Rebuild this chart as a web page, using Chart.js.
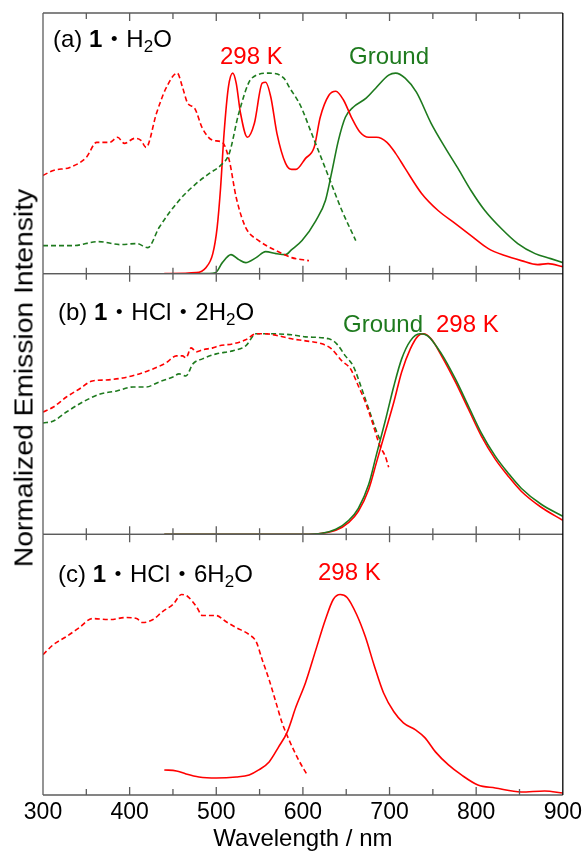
<!DOCTYPE html>
<html><head><meta charset="utf-8">
<script src="https://cdn.jsdelivr.net/npm/chart.js@4"></script>
<style>
html,body{margin:0;padding:0;background:#fff;}
#wrap{position:relative;width:586px;height:852px;overflow:hidden;}
#c{position:absolute;left:0;top:0;}
.lbl{position:absolute;font-family:"Liberation Sans",Arial,"Noto Sans CJK JP",sans-serif;font-size:24px;line-height:24px;white-space:nowrap;color:#000;}
.sub{font-size:17px;position:relative;top:5px;}
.dot{font-family:"Noto Sans CJK JP",sans-serif;}
.red{color:#ff0000;}
.grn{color:#1e7a1e;}
</style>
</head><body>
<div id="wrap">
<canvas id="c" width="586" height="852"></canvas>
<div class="lbl" style="left:53px;top:25px;">(a) <b>1</b><span class="dot">・</span>H<span class="sub">2</span>O</div>
<div class="lbl red" style="left:220px;top:44px;">298 K</div>
<div class="lbl grn" style="left:349px;top:44px;">Ground</div>
<div class="lbl" style="left:58px;top:298px;">(b) <b>1</b><span class="dot">・</span>HCl<span class="dot">・</span>2H<span class="sub">2</span>O</div>
<div class="lbl grn" style="left:343px;top:312px;">Ground</div>
<div class="lbl red" style="left:436px;top:312px;">298 K</div>
<div class="lbl" style="left:58px;top:560px;">(c) <b>1</b><span class="dot">・</span>HCl<span class="dot">・</span>6H<span class="sub">2</span>O</div>
<div class="lbl red" style="left:318px;top:560px;">298 K</div>
<div class="lbl" style="left:24px;top:378px;font-size:25px;line-height:25px;transform:translate(-50%,-50%) rotate(-90deg) scaleX(1.13);">Normalized Emission Intensity</div>
</div>
<script>
// ---------- tick labels ----------
const xTickLabels = [300, 400, 500, 600, 700, 800, 900];

// ---------- panel (a) 1·H2O ----------
const aExc298X = [300,312,331,350,362,377,386,394,406,413,419,431,442,455,461,467,475,484,496,507,515,523,534,549,569,587,607];
const aExc298Y = [0.49,0.515,0.53,0.58,0.655,0.655,0.68,0.65,0.675,0.665,0.63,0.80,0.925,1.0,0.93,0.85,0.825,0.725,0.665,0.655,0.565,0.38,0.23,0.165,0.115,0.08,0.065];
const aExcGrdX = [300,335,364,389,408,421,434,457,477,492,505,515,526,541,561,578,585,597,610,630,645,661];
const aExcGrdY = [0.14,0.14,0.16,0.145,0.15,0.13,0.23,0.365,0.45,0.50,0.54,0.60,0.80,0.975,1.0,0.975,0.925,0.84,0.70,0.48,0.315,0.165];
const aEm298X = [440,477,488,496,501,505,509,514,519,523,528,536,544,553,557,563,570,580,587,592,603,613,620,630,638,647,656,666,676,685,697,707,718,737,756,776,794,814,833,852,871,883,900];
const aEm298Y = [0,0.005,0.03,0.10,0.23,0.43,0.70,0.93,1.0,0.95,0.80,0.68,0.75,0.95,0.955,0.88,0.70,0.55,0.52,0.52,0.575,0.63,0.78,0.89,0.91,0.865,0.78,0.705,0.68,0.68,0.655,0.60,0.525,0.40,0.315,0.25,0.19,0.125,0.09,0.065,0.045,0.05,0.035];
const aEmGrdX = [480,499,507,517,526,534,546,557,569,580,587,599,615,626,633,641,649,658,673,684,699,707,718,731,748,764,779,794,810,829,848,868,886,900];
const aEmGrdY = [0,0.005,0.055,0.095,0.07,0.055,0.08,0.11,0.10,0.095,0.12,0.165,0.265,0.365,0.50,0.665,0.78,0.83,0.875,0.925,0.99,1.0,0.975,0.905,0.75,0.63,0.525,0.415,0.315,0.225,0.15,0.10,0.075,0.055];

// ---------- panel (b) 1·HCl·2H2O ----------
const bExc298X = [300,312,327,342,357,373,392,411,427,442,454,461,465,471,477,484,496,503,519,534,546,557,572,587,603,622,633,645,655,664,672,680,689,695,699];
const bExc298Y = [0.61,0.635,0.685,0.725,0.765,0.77,0.78,0.80,0.825,0.855,0.89,0.89,0.88,0.93,0.91,0.92,0.93,0.94,0.95,0.97,1.0,1.0,0.99,0.975,0.965,0.95,0.925,0.865,0.825,0.74,0.66,0.56,0.44,0.39,0.335];
const bExcGrdX = [300,312,327,346,366,385,404,419,434,450,457,465,473,484,500,519,534,546,565,587,603,630,639,649,658,668,676,684,690];
const bExcGrdY = [0.555,0.565,0.61,0.66,0.70,0.715,0.735,0.735,0.76,0.785,0.80,0.79,0.85,0.875,0.90,0.915,0.94,1.0,1.0,0.995,0.985,0.975,0.95,0.89,0.84,0.725,0.625,0.525,0.46];
const bEm298X = [440,600,622,638,653,664,676,685,695,705,714,724,733,739,748,760,776,791,806,822,837,852,875,900];
const bEm298Y = [0,0,0.005,0.02,0.06,0.115,0.225,0.36,0.51,0.66,0.81,0.925,0.99,1.0,0.975,0.89,0.76,0.625,0.49,0.375,0.29,0.215,0.135,0.07];
const bEmGrdX = [440,600,622,638,653,664,676,685,695,705,714,724,735,744,760,776,791,806,822,837,852,875,900];
const bEmGrdY = [0,0,0.005,0.025,0.07,0.13,0.25,0.40,0.565,0.74,0.875,0.965,1.0,0.99,0.90,0.775,0.64,0.505,0.39,0.305,0.23,0.15,0.09];

// ---------- panel (c) 1·HCl·6H2O ----------
const cExc298X = [300,312,327,342,357,377,396,408,415,427,438,450,460,467,477,484,500,511,523,538,546,553,561,569,576,584,595,605];
const cExc298Y = [0.70,0.75,0.79,0.835,0.88,0.875,0.885,0.88,0.86,0.875,0.915,0.95,1.0,0.99,0.94,0.895,0.895,0.865,0.835,0.80,0.765,0.675,0.575,0.46,0.36,0.275,0.175,0.10];
const cEm298X = [440,454,465,480,500,523,538,549,561,572,582,592,603,615,626,635,643,651,662,672,682,693,705,716,730,741,753,768,783,802,822,852,879,900];
const cEm298Y = [0.125,0.12,0.105,0.09,0.085,0.09,0.10,0.125,0.165,0.24,0.315,0.44,0.56,0.725,0.875,0.975,1.0,0.985,0.90,0.79,0.65,0.51,0.415,0.36,0.325,0.285,0.215,0.15,0.10,0.05,0.035,0.015,0.02,0.01];

const RED = '#ff0000', GRN = '#1e7a1e';
const pts = (xs, ys) => xs.map((x, i) => ({x: x, y: ys[i]}));
function ds(xs, ys, color, dashed, panel) {
  return {
    data: pts(xs, ys), borderColor: color, borderWidth: 1.6,
    borderDash: dashed ? [5, 3] : [], pointRadius: 0, fill: false,
    cubicInterpolationMode: 'monotone', panel: panel, yAxisID: panel
  };
}
const datasets = [
  ds(aExc298X, aExc298Y, RED, true, 'ya'),
  ds(aExcGrdX, aExcGrdY, GRN, true, 'ya'),
  ds(aEm298X, aEm298Y, RED, false, 'ya'),
  ds(aEmGrdX, aEmGrdY, GRN, false, 'ya'),
  ds(bExc298X, bExc298Y, RED, true, 'yb'),
  ds(bExcGrdX, bExcGrdY, GRN, true, 'yb'),
  ds(bEmGrdX, bEmGrdY, GRN, false, 'yb'),
  ds(bEm298X, bEm298Y, RED, false, 'yb'),
  ds(cExc298X, cExc298Y, RED, true, 'yc'),
  ds(cEm298X, cEm298Y, RED, false, 'yc')
];

function yAxis() {
  return {
    type: 'linear', min: 0, max: 1.3, stack: 'panels', stackWeight: 1, position: 'left',
    display: true, ticks: {display: false}, grid: {display: false, drawTicks: false},
    border: {display: false}, title: {display: false},
    afterFit: s => { s.width = 0; }
  };
}

const framePlugin = {
  id: 'frame',
  afterDatasetsDraw(chart) {
    const ctx = chart.ctx, xs = chart.scales.x;
    const panels = ['ya', 'yb', 'yc'].map(id => chart.scales[id]);
    const L = xs.left, R = xs.right;
    const majors = xs.ticks.map(t => t.value);
    const marks = [];
    majors.forEach((v, i) => {
      marks.push({v: v, len: 8});
      if (i < majors.length - 1) marks.push({v: (v + majors[i + 1]) / 2, len: 6});
    });
    ctx.save();
    ctx.lineWidth = 1.3;
    ctx.strokeStyle = '#5c5c5c';
    let top = Infinity, bottom = -Infinity;
    panels.forEach(s => {
      const T = s.top, B = s.bottom;
      top = Math.min(top, T); bottom = Math.max(bottom, B);
      ctx.beginPath();
      ctx.moveTo(L, T); ctx.lineTo(R, T);
      ctx.moveTo(L, B); ctx.lineTo(R, B);
      ctx.moveTo(L, T); ctx.lineTo(L, B);
      marks.forEach(m => {
        const px = xs.getPixelForValue(m.v);
        if (px <= L + 1 || px >= R - 1) return;
        ctx.moveTo(px, T); ctx.lineTo(px, T + m.len);
        ctx.moveTo(px, B); ctx.lineTo(px, B - m.len);
      });
      ctx.stroke();
    });
    ctx.strokeStyle = '#000';
    ctx.beginPath(); ctx.moveTo(R, top); ctx.lineTo(R, bottom); ctx.stroke();
    ctx.restore();
  }
};

const chart = new Chart(document.getElementById('c'), {
  type: 'line',
  data: {datasets: datasets},
  plugins: [framePlugin],
  options: {
    responsive: false, animation: false, devicePixelRatio: 1,
    layout: {padding: {left: 43, right: 21, top: 13, bottom: 0}},
    plugins: {legend: {display: false}, tooltip: {enabled: false}},
    scales: {
      x: {
        type: 'linear', position: 'bottom', min: 300, max: 900,
        afterBuildTicks: s => { s.ticks = xTickLabels.map(v => ({value: v})); },
        ticks: {color: '#000', font: {family: '"Liberation Sans", Arial, sans-serif', size: 23}, padding: 4, maxRotation: 0, autoSkip: false},
        grid: {display: false, drawTicks: false}, border: {display: false},
        title: {display: true, text: 'Wavelength / nm', color: '#000',
          font: {family: '"Liberation Sans", Arial, sans-serif', size: 24, lineHeight: 1}, padding: {top: 0, bottom: 1}},
        afterFit: s => { s.height = 57; }
      },
      yc: yAxis(),
      yb: yAxis(),
      ya: yAxis()
    }
  }
});
// make sure panel (a) is on top, (c) at the bottom
(function fixOrder() {
  const ids = ['ya', 'yb', 'yc'].sort((p, q) => chart.scales[p].top - chart.scales[q].top);
  const map = {ya: ids[0], yb: ids[1], yc: ids[2]};
  let changed = false;
  chart.data.datasets.forEach(d => { if (d.yAxisID !== map[d.panel]) { d.yAxisID = map[d.panel]; changed = true; } });
  if (changed) chart.update('none');
})();
</script>
</body></html>
